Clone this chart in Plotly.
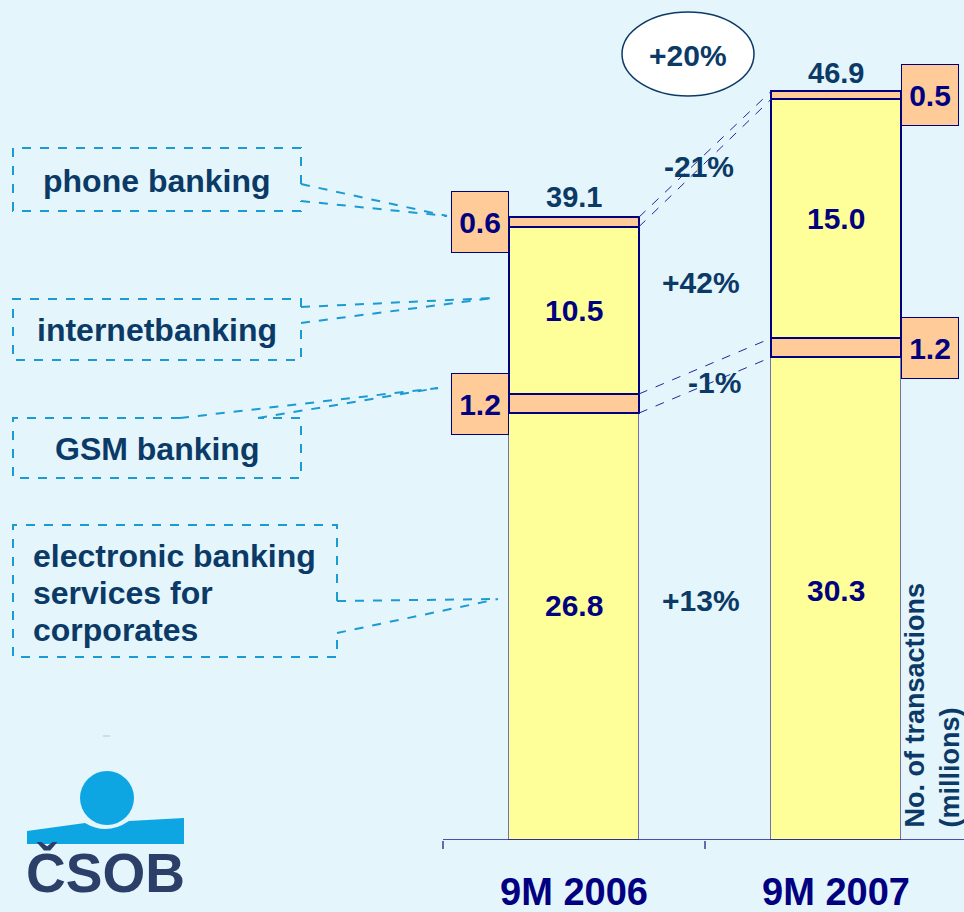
import plotly.graph_objects as go

# ---- data -------------------------------------------------------------
periods = ["9M 2006", "9M 2007"]
corporates = [26.8, 30.3]      # electronic banking services for corporates
gsm = [1.2, 1.2]               # GSM banking
internet = [10.5, 15.0]        # internetbanking
phone = [0.6, 0.5]             # phone banking
totals = [39.1, 46.9]
segment_growth = ["+13%", "-1%", "+42%", "-21%"]
total_growth = "+20%"
channel_labels = ["phone banking", "internetbanking", "GSM banking"]
corporate_label_lines = ["electronic banking", "services for", "corporates"]
axis_title = "No. of transactions<br>(millions)"

# ---- style ------------------------------------------------------------
W, H = 964, 912
PLOT_H = 840                 # plot area height (bottom margin holds the tick labels)
YMAX = 52.73
XRANGE = [-2.1908, 1.4885]
BAR_W = 0.496
BG = "#E4F5FC"
YELLOW = "#FFFF99"
PINK = "#FFCC99"
NAVY = "#000080"
DARK = "#0B3A66"
CYAN = "#1B9BD1"
FONT = "Liberation Sans"


def fx(p):
    """pixel column -> paper x"""
    return p / W


def fy(p):
    """pixel row -> paper y"""
    return (PLOT_H - p) / PLOT_H


def note(px, py, text, size, color=DARK, xanchor="center", **kw):
    return dict(x=fx(px), y=fy(py), xref="paper", yref="paper", text=text,
                xanchor=xanchor, yanchor=kw.pop("yanchor", "middle"), showarrow=False,
                font=dict(family=FONT, size=size, color=color, weight=kw.pop("weight", 700)),
                **kw)


fig = go.Figure()

series = [
    (corporates, YELLOW, "#7272AE", 1.5),
    (gsm, PINK, NAVY, 2),
    (internet, YELLOW, NAVY, 2),
    (phone, PINK, NAVY, 2),
]
for vals, fill, lc, lw in series:
    fig.add_bar(
        x=periods, y=vals, width=BAR_W,
        marker=dict(color=fill, line=dict(color=lc, width=lw)),
        hoverinfo="skip", showlegend=False,
    )

# cumulative boundaries of the stacks
stack = [corporates, gsm, internet, phone]
bounds = []
for i in range(len(periods)):
    b = [0.0]
    for s in stack:
        b.append(b[-1] + s[i])
    bounds.append(b)

shapes = []
annotations = []

# axis baseline
shapes.append(dict(type="line", xref="x", yref="y", x0=-0.5, x1=XRANGE[1], y0=0, y1=0,
                   line=dict(color="#1A1A8A", width=1.5)))

# dashed links between the thin segments of the two bars
x_left = 0 + BAR_W / 2
x_right = 1 - BAR_W / 2
for k in [1, 2, 3, 4]:
    shapes.append(dict(type="line", xref="x", yref="y",
                       x0=x_left, y0=bounds[0][k], x1=x_right, y1=bounds[1][k],
                       line=dict(color="#2424A0", width=1, dash="dash")))

# values inside the yellow segments
inside = [(0, corporates, [21, 8]), (2, internet, [0, 0])]
for idx, vals, shifts in inside:
    for i in range(len(periods)):
        annotations.append(dict(
            x=i, y=bounds[i][idx] + vals[i] / 2, xref="x", yref="y",
            xanchor="center", yanchor="middle",
            text=f"{vals[i]:.1f}", showarrow=False, yshift=shifts[i],
            font=dict(family=FONT, size=30, color=NAVY, weight=700)))

# boxed values for the thin segments
for idx, vals in [(1, gsm), (3, phone)]:
    for i in range(len(periods)):
        side = -1 if i == 0 else 1
        annotations.append(dict(
            x=i + side * BAR_W / 2, y=bounds[i][idx] + vals[i] / 2, xref="x", yref="y",
            xanchor="right" if i == 0 else "left", yanchor="middle",
            text=f"{vals[i]:.1f}", showarrow=False,
            width=56, height=60, borderpad=0,
            bgcolor=PINK, bordercolor=NAVY, borderwidth=1,
            font=dict(family=FONT, size=30, color=NAVY, weight=700)))

# totals above the bars
for i in range(len(periods)):
    annotations.append(dict(
        x=i, y=totals[i], xref="x", yref="y", xanchor="center", yanchor="bottom", yshift=2,
        text=f"{totals[i]:.1f}", showarrow=False,
        font=dict(family=FONT, size=29, color=DARK, weight=700)))

# growth rates between the bars
growth_pos = [(701, 600), (714, 382), (701, 282), (699, 167)]
for txt, (px, py) in zip(segment_growth, growth_pos):
    annotations.append(note(px, py, txt, 30))

# total growth in an ellipse
shapes.append(dict(type="circle", xref="paper", yref="paper",
                   x0=fx(622), x1=fx(754), y0=fy(96), y1=fy(12),
                   fillcolor="white", line=dict(color=DARK, width=1.5)))
annotations.append(note(688, 56, total_growth, 30))


def path(points, close=False):
    s = "M " + " L ".join(f"{fx(a):.5f},{fy(b):.5f}" for a, b in points)
    return s + (" Z" if close else "")


dash_line = dict(color=CYAN, width=2, dash="dash")

# channel callouts: dashed boxes opened where the leader lines leave them
callouts = [
    # box outline (with gap), leader lines
    ([(301, 184), (301, 148), (13, 148), (13, 211), (301, 211), (301, 201)],
     [[(301, 184), (447, 216)], [(301, 201), (447, 216)]]),
    ([(301, 307), (301, 299), (13, 299), (13, 360), (301, 360), (301, 323)],
     [[(301, 307), (493, 298)], [(301, 323), (493, 298)]]),
    ([(180, 418), (13, 418), (13, 478), (301, 478), (301, 418), (258, 418)],
     [[(180, 418), (438, 388)], [(258, 418), (438, 388)]]),
    ([(337, 601), (337, 525), (13, 525), (13, 657), (337, 657), (337, 633)],
     [[(337, 601), (498, 599)], [(337, 633), (498, 599)]]),
]
for outline, leaders in callouts:
    shapes.append(dict(type="path", xref="paper", yref="paper", path=path(outline),
                       line=dash_line))
    for ld in leaders:
        shapes.append(dict(type="path", xref="paper", yref="paper", path=path(ld),
                           line=dash_line))

label_pos = [(157, 181), (157, 330), (157, 449)]
for txt, (px, py) in zip(channel_labels, label_pos):
    annotations.append(note(px, py, txt, 32))
for txt, py in zip(corporate_label_lines, [556, 593, 630]):
    annotations.append(note(31, py, txt, 32, xanchor="left"))

# vertical unit label
annotations.append(note(932, 830, axis_title, 27, yanchor="bottom",
                        textangle=-90, align="left"))

# CSOB logo
LOGO_BLUE = "#0DA6E3"
shapes.append(dict(type="circle", xref="paper", yref="paper",
                   x0=fx(80), x1=fx(134), y0=fy(825), y1=fy(771),
                   fillcolor=LOGO_BLUE, line=dict(width=0)))
band = (f"M {fx(27):.5f},{fy(844):.5f} L {fx(27):.5f},{fy(831):.5f} "
        f"L {fx(85):.5f},{fy(823):.5f} Q {fx(107):.5f},{fy(836):.5f} {fx(129):.5f},{fy(821):.5f} "
        f"L {fx(184):.5f},{fy(818):.5f} L {fx(184):.5f},{fy(844):.5f} Z")
shapes.append(dict(type="path", xref="paper", yref="paper", path=band,
                   fillcolor=LOGO_BLUE, line=dict(width=0)))
shapes.append(dict(type="line", xref="paper", yref="paper",
                   x0=fx(103), x1=fx(110), y0=fy(736), y1=fy(736),
                   line=dict(color="#9CCFEA", width=1)))
annotations.append(note(105, 873, "ČSOB", 55, color="#2B3F68", weight=900))

fig.update_layout(
    width=W, height=H, autosize=False,
    margin=dict(l=0, r=0, t=0, b=H - PLOT_H, pad=0),
    paper_bgcolor=BG, plot_bgcolor=BG,
    barmode="stack", bargap=0,
    shapes=shapes, annotations=annotations,
    xaxis=dict(
        type="category", range=XRANGE, showgrid=False, zeroline=False, showline=False,
        tickson="boundaries", ticks="outside", ticklen=8, tickwidth=2, tickcolor="#6A6AA8",
        tickfont=dict(family=FONT, size=38, color=NAVY, weight=700),
        ticklabelstandoff=26, automargin=False, fixedrange=True,
    ),
    yaxis=dict(range=[0, YMAX], visible=False, automargin=False, fixedrange=True),
)

fig.write_html("out.html")
